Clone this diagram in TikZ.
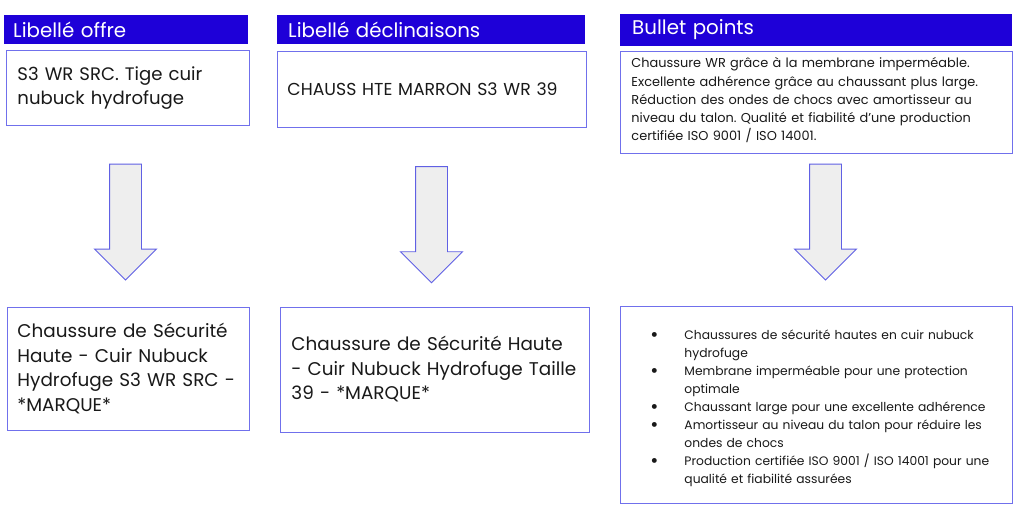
\documentclass[tikz,border=0pt]{standalone}
\usepackage{fontspec}
\setmainfont{Poppins}
\usetikzlibrary{shapes.arrows,positioning}
\definecolor{hdrblue}{RGB}{30,0,216}
\definecolor{boxline}{RGB}{112,112,236}
\definecolor{arrowline}{RGB}{96,96,228}
\definecolor{arrowfill}{RGB}{238,238,238}
\definecolor{txt}{RGB}{25,25,25}
\newcommand{\puce}{\raisebox{-2pt}{\scalebox{1.6}{\textbullet}}}
\frenchspacing

\begin{document}
\begin{tikzpicture}[x=1pt,y=-1pt,
                    header/.style={fill=hdrblue, text=white, anchor=north west, inner ysep=0pt,
                                   minimum height=29pt, align=left, font=\fontsize{19.8}{22}\selectfont},
                    field/.style={draw=boxline, line width=0.9pt, anchor=north west, inner ysep=0pt,
                                  align=left, text=txt},
                    bigtext/.style={font=\fontsize{18.4}{24.5}\selectfont},
                    smalltext/.style={font=\fontsize{12.6}{18.2}\selectfont},
                    downarrow/.style={single arrow, draw=arrowline, fill=arrowfill, line width=0.9pt,
                                      rotate=-90, anchor=tip, inner xsep=0pt, inner ysep=15.5pt,
                                      single arrow head extend=15pt, minimum height=116pt},
                   ]

\useasboundingbox[fill=white] (0,0) rectangle (1024,511);

% titres
\node[header, inner xsep=9pt, text width=226pt] (hoffre) at (4,15) {Libellé offre};
\node[header, inner xsep=11pt, text width=286pt] (hdecl) at (277,15) {Libellé déclinaisons};
\node[header, inner xsep=12pt, text width=368pt, minimum height=31.5pt] (hbullet) at (620,14) {Bullet points};

% textes source
\node[field, bigtext, font=\fontsize{18.1}{24.5}\selectfont, inner xsep=11pt, text width=221pt,
      minimum height=75pt] (offre) at (6,50)
     {S3 WR SRC. Tige cuir\\nubuck hydrofuge};
\node[field, bigtext, font=\fontsize{17.3}{24}\selectfont, inner xsep=10pt, text width=289pt,
      minimum height=75pt] (decl) at (277,51.5)
     {CHAUSS HTE MARRON S3 WR 39};
\node[field, smalltext, font=\fontsize{12.9}{18.3}\selectfont, inner xsep=11pt, text width=369.5pt,
      text depth=79.5pt, minimum height=102pt] (bullet) at (620,51)
     {Chaussure WR grâce à la membrane imperméable.\\
      Excellente adhérence grâce au chaussant plus large.\\
      Réduction des ondes de chocs avec amortisseur au\\
      niveau du talon. Qualité et fiabilité d'une production\\
      certifiée ISO 9001 / ISO 14001.};

% fleches
\node[downarrow] (aoffre) at (125.5,280.7) {};
\node[downarrow] (adecl) at (431.5,283.3) {};
\node[downarrow] (abullet) at (825.5,280.7) {};

% textes generes
\node[field, bigtext, inner xsep=10pt, text width=222pt, minimum height=123.5pt] (newoffre) at (7,306.5)
     {Chaussure de Sécurité\\Haute - Cuir Nubuck\\Hydrofuge S3 WR SRC -\\{*}MARQUE*};
\node[field, bigtext, inner xsep=11pt, text width=287pt, minimum height=125pt] (newdecl) at (280,306.5)
     {Chaussure de Sécurité Haute\\- Cuir Nubuck Hydrofuge Taille\\39 - *MARQUE*};
\node[field, smalltext, font=\fontsize{12.3}{17.9}\selectfont, inner xsep=30pt, text width=331.5pt,
      text depth=142.6pt, minimum height=197pt] (newbullet) at (620,306)
     {\begin{tabular}[t]{@{}p{34pt}@{}l@{}}
      \puce & Chaussures de sécurité hautes en cuir nubuck\\
            & hydrofuge\\
      \puce & Membrane imperméable pour une protection\\
            & optimale\\
      \puce & Chaussant large pour une excellente adhérence\\
      \puce & Amortisseur au niveau du talon pour réduire les\\
            & ondes de chocs\\
      \puce & Production certifiée ISO 9001 / ISO 14001 pour une\\
            & qualité et fiabilité assurées
      \end{tabular}};

\end{tikzpicture}
\end{document}
